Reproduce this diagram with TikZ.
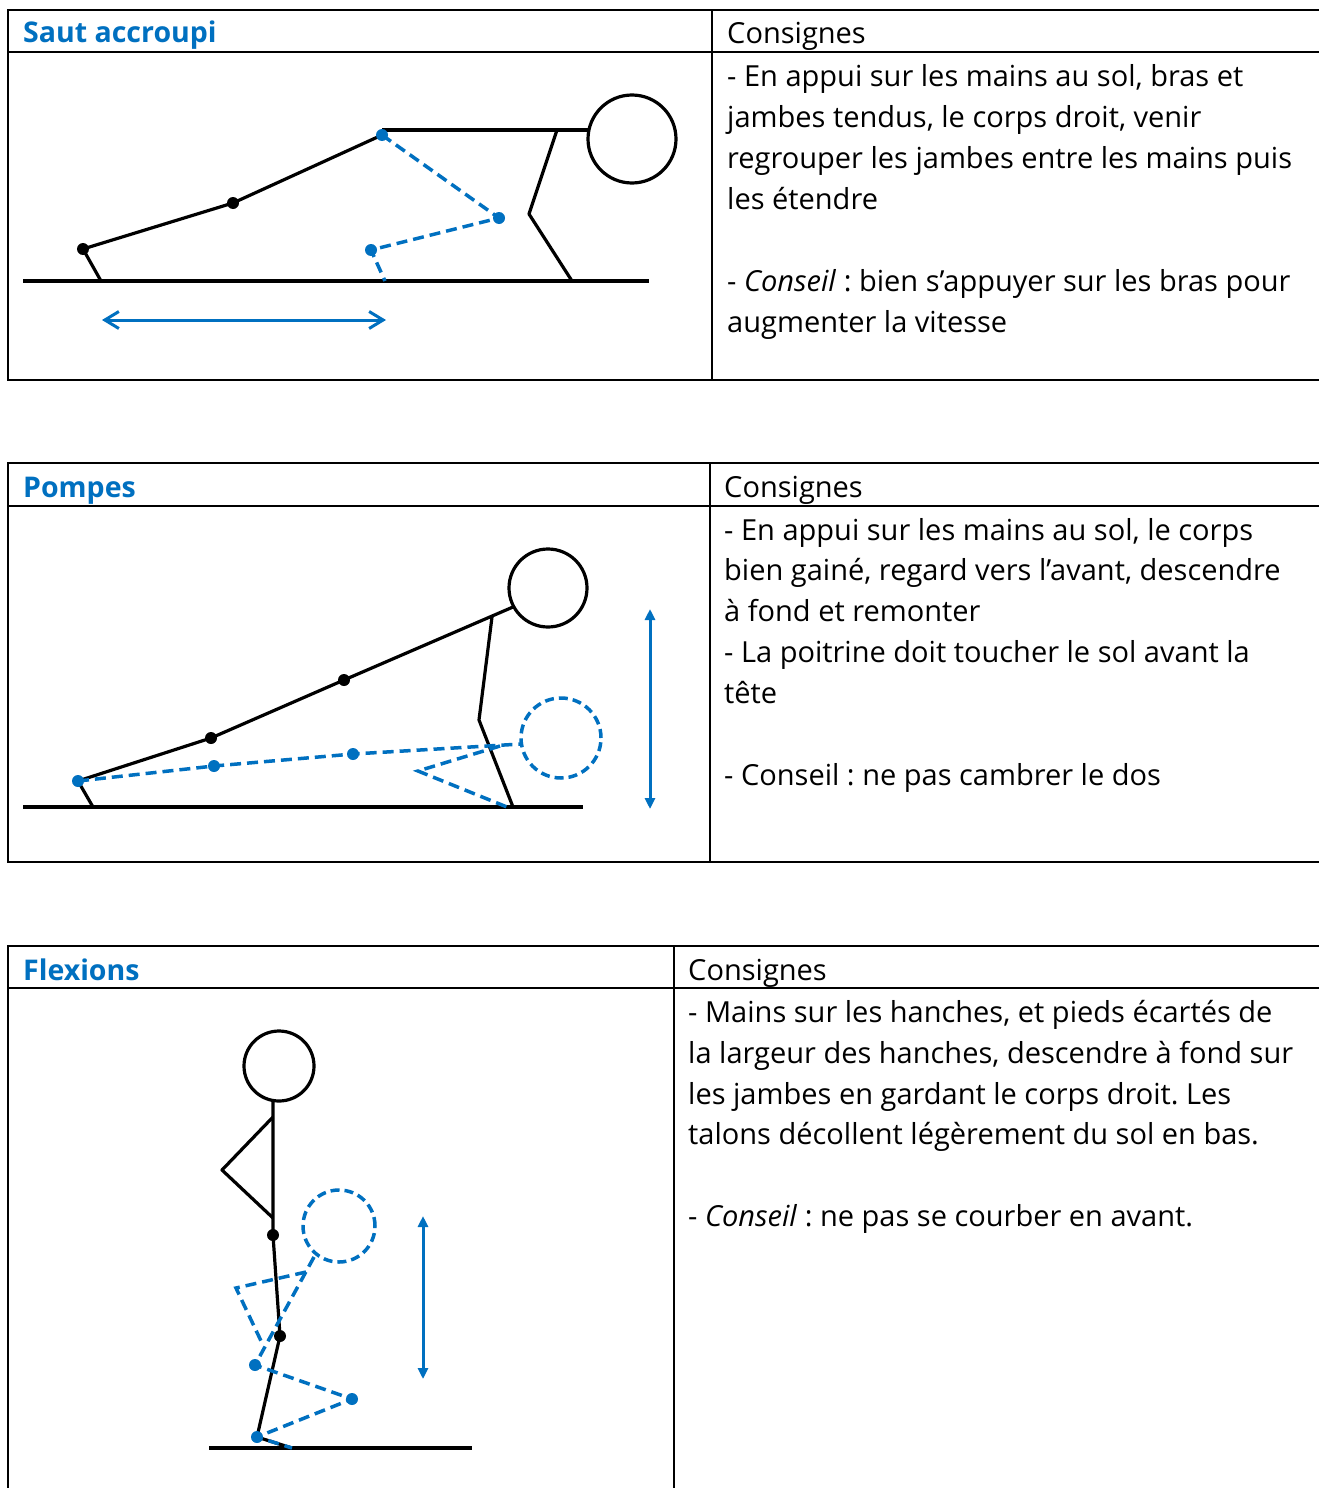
\documentclass[tikz,border=0pt]{standalone}
\usepackage{fontspec}
\setmainfont{Open Sans}
\usetikzlibrary{arrows.meta}
\definecolor{exblue}{RGB}{0,112,192}
\frenchspacing

\tikzset{
  frame/.style={line width=2pt, black},
  limb/.style={line width=3.2pt, black, line join=round},
  ghost/.style={line width=3.5pt, exblue, dash pattern=on 11pt off 6pt, line join=miter},
  jdot/.style={circle, fill=black, inner sep=0pt, minimum size=12pt},
  bdot/.style={circle, fill=exblue, inner sep=0pt, minimum size=12pt},
  headc/.style={circle, draw=black, line width=3.2pt, inner sep=0pt},
  ghosthead/.style={circle, draw=exblue, line width=3.5pt, dash pattern=on 9pt off 5pt, inner sep=0pt},
  ground/.style={line width=3.2pt, black},
  title/.style={anchor=base west, inner sep=0pt, text=exblue, font=\bfseries\fontsize{28.5}{34}\selectfont},
  txt/.style={anchor=base west, inner sep=0pt, font=\fontsize{29}{34}\selectfont},
  moveh/.style={exblue, line width=3pt,
    {Straight Barb[length=14pt,width=17pt]}-{Straight Barb[length=14pt,width=17pt]}},
  movev/.style={exblue, line width=3pt,
    {Triangle[length=11pt,width=10pt]}-{Triangle[length=11pt,width=10pt]}},
}

\begin{document}
\begin{tikzpicture}[x=1pt,y=-1pt]
\useasboundingbox (0,0) rectangle (1318,1488);
\fill[white] (0,0) rectangle (1318,1488);

% ---------- Table 1 : Saut accroupi ----------
\draw[frame] (1330,10) -- (8,10) -- (8,380) -- (1330,380);
\draw[frame] (8,52) -- (1330,52);
\draw[frame] (712,10) -- (712,380);
\node[title] (t1) at (23,43) {Saut accroupi};
\node[txt] (h1) at (727,44) {Consignes};
\node[txt] (a1) at (727,86) {- En appui sur les mains au sol, bras et};
\node[txt] (a2) at (727,127) {jambes tendus, le corps droit, venir};
\node[txt] (a3) at (727,168) {regrouper les jambes entre les mains puis};
\node[txt] (a4) at (727,209) {les étendre};
\node[txt] (a5) at (727,291) {- \textit{Conseil} : bien s’appuyer sur les bras pour};
\node[txt] (a6) at (727,332) {augmenter la vitesse};

% figure 1
\coordinate (g1l) at (23,281);  \coordinate (g1r) at (649,281);
\draw[ground] (g1l) -- (g1r);
\coordinate (f1toe) at (101,281);
\coordinate (f1ank) at (83,249);
\coordinate (f1knee) at (233,203);
\coordinate (f1hip) at (382,135);
\coordinate (f1back) at (382,130);
\node[headc, minimum size=88pt] (f1head) at (632,139) {};
\coordinate (f1neck) at (589,130);
\coordinate (f1sh) at (557,130);
\coordinate (f1elb) at (529,214);
\coordinate (f1hand) at (572,281);
\draw[limb] (f1toe) -- (f1ank) -- (f1knee) -- (f1hip);
\draw[limb] (f1back) -- (f1neck);
\draw[limb] (f1sh) -- (f1elb) -- (f1hand);
\node[jdot] (d1a) at (f1ank) {};
\node[jdot] (d1b) at (f1knee) {};
% tucked legs
\coordinate (f1bknee) at (499,218);
\coordinate (f1bank) at (371,250);
\coordinate (f1btoe) at (385,281);
\draw[ghost] (f1hip) -- (f1bknee) -- (f1bank) -- (f1btoe);
\node[bdot] (d1c) at (f1hip) {};
\node[bdot] (d1d) at (f1bknee) {};
\node[bdot] (d1e) at (f1bank) {};
\coordinate (m1a) at (102,320); \coordinate (m1b) at (386,320);
\draw[moveh] (m1a) -- (m1b);

% ---------- Table 2 : Pompes ----------
\draw[frame] (1330,463) -- (8,463) -- (8,862) -- (1330,862);
\draw[frame] (8,506) -- (1330,506);
\draw[frame] (710,463) -- (710,862);
\node[title] (t2) at (23,497) {Pompes};
\node[txt] (h2) at (724,497) {Consignes};
\node[txt] (b1) at (724,540) {- En appui sur les mains au sol, le corps};
\node[txt] (b2) at (724,580) {bien gainé, regard vers l’avant, descendre};
\node[txt] (b3) at (724,621) {à fond et remonter};
\node[txt] (b4) at (724,662) {- La poitrine doit toucher le sol avant la};
\node[txt] (b5) at (724,703) {tête};
\node[txt] (b6) at (724,785) {- Conseil : ne pas cambrer le dos};

% figure 2
\coordinate (g2l) at (23,807);  \coordinate (g2r) at (583,807);
\draw[ground] (g2l) -- (g2r);
\coordinate (f2toe) at (93,807);
\coordinate (f2ank) at (78,781);
\coordinate (f2knee) at (211,738);
\coordinate (f2hip) at (344,680);
\node[headc, minimum size=78pt] (f2head) at (548,588) {};
\coordinate (f2neck) at (513,607);
\coordinate (f2sh) at (492,617);
\coordinate (f2elb) at (479,720);
\coordinate (f2hand) at (513,807);
\draw[limb] (f2toe) -- (f2ank) -- (f2knee) -- (f2hip) -- (f2neck);
\draw[limb] (f2sh) -- (f2elb) -- (f2hand);
\node[jdot] (d2a) at (f2knee) {};
\node[jdot] (d2b) at (f2hip) {};
% lowered body
\node[ghosthead, minimum size=80pt] (f2bhead) at (561,738) {};
\coordinate (f2bknee) at (214,766);
\coordinate (f2bhip) at (353,754);
\coordinate (f2bneck) at (521,744);
\coordinate (f2bsh) at (500,746);
\coordinate (f2belb) at (418,771);
\coordinate (f2bhand) at (507,807);
\draw[ghost] (f2ank) -- (f2bknee) -- (f2bhip) -- (f2bneck);
\draw[ghost] (f2bsh) -- (f2belb) -- (f2bhand);
\node[bdot] (d2c) at (f2ank) {};
\node[bdot] (d2d) at (f2bknee) {};
\node[bdot] (d2e) at (f2bhip) {};
\coordinate (m2a) at (650,609); \coordinate (m2b) at (650,809);
\draw[movev] (m2a) -- (m2b);

% ---------- Table 3 : Flexions ----------
\draw[frame] (1330,946) -- (8,946) -- (8,1500);
\draw[frame] (8,988) -- (1330,988);
\draw[frame] (674,946) -- (674,1500);
\node[title] (t3) at (23,980) {Flexions};
\node[txt] (h3) at (688,980) {Consignes};
\node[txt] (c1) at (688,1022) {- Mains sur les hanches, et pieds écartés de};
\node[txt] (c2) at (688,1063) {la largeur des hanches, descendre à fond sur};
\node[txt] (c3) at (688,1104) {les jambes en gardant le corps droit. Les};
\node[txt] (c4) at (688,1144) {talons décollent légèrement du sol en bas.};
\node[txt] (c5) at (688,1226) {- \textit{Conseil} : ne pas se courber en avant.};

% figure 3
\coordinate (g3l) at (209,1448);  \coordinate (g3r) at (472,1448);
\draw[ground] (g3l) -- (g3r);
\node[headc, minimum size=70pt] (f3head) at (279,1066) {};
\coordinate (f3neck) at (273,1100);
\coordinate (f3sh) at (273,1117);
\coordinate (f3elb) at (222,1170);
\coordinate (f3hand) at (273,1218);
\coordinate (f3hip) at (273,1235);
\coordinate (f3knee) at (280,1336);
\coordinate (f3ank) at (257,1437);
\coordinate (f3toe) at (292,1448);
\draw[limb] (f3neck) -- (f3hip) -- (f3knee) -- (f3ank) -- (f3toe);
\draw[limb] (f3sh) -- (f3elb) -- (f3hand);
\node[jdot] (d3a) at (f3hip) {};
\node[jdot] (d3b) at (f3knee) {};
% squat position
\node[ghosthead, minimum size=72pt] (f3bhead) at (339,1226) {};
\coordinate (f3bneck) at (314,1257);
\coordinate (f3bsh) at (306,1272);
\coordinate (f3belb) at (236,1288);
\coordinate (f3bhand) at (262,1343);
\coordinate (f3bhip) at (255,1365);
\coordinate (f3bknee) at (352,1399);
\draw[ghost] (f3bneck) -- (f3bhip) -- (f3bknee) -- (f3ank) -- (f3toe);
\draw[ghost] (f3bsh) -- (f3belb) -- (f3bhand);
\node[bdot] (d3c) at (f3bhip) {};
\node[bdot] (d3d) at (f3bknee) {};
\node[bdot] (d3e) at (f3ank) {};
\coordinate (m3a) at (423,1216); \coordinate (m3b) at (423,1379);
\draw[movev] (m3a) -- (m3b);
\end{tikzpicture}
\end{document}
